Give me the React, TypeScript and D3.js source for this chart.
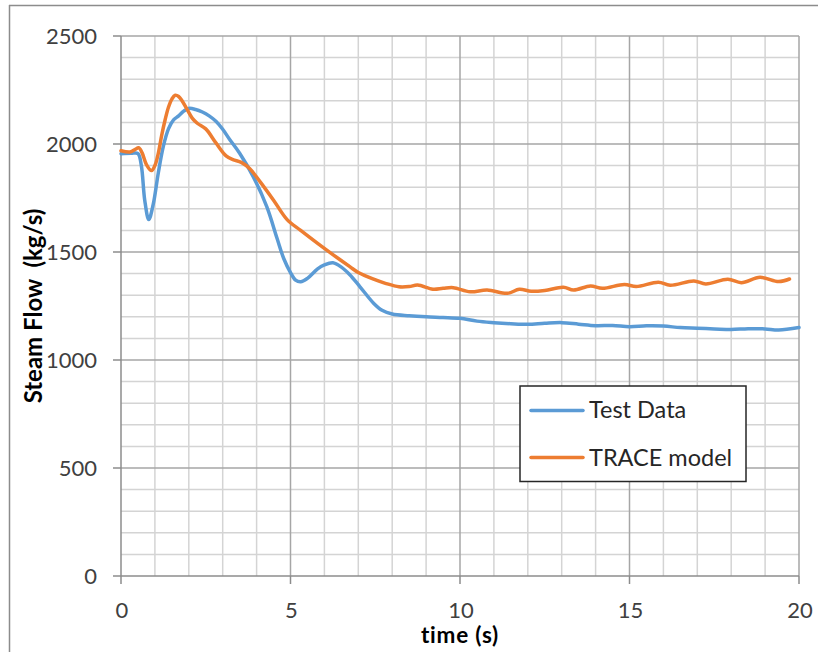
import React from "react";
import * as d3 from "d3";

const testT = [0, 0.3, 0.5, 0.6, 0.7, 0.82, 0.95, 1.1, 1.25, 1.4, 1.55, 1.7, 1.85, 2.0, 2.2, 2.4, 2.6, 2.8, 3.0, 3.2, 3.5, 3.9, 4.3, 4.6, 4.8, 5.0, 5.15, 5.3, 5.5, 5.8, 6.0, 6.25, 6.5, 6.75, 7.05, 7.45, 7.7, 8.0, 8.5, 9.0, 9.5, 10.0, 10.5, 11.0, 11.5, 12.0, 12.5, 13.0, 13.5, 14.0, 14.5, 15.0, 15.5, 16.0, 16.5, 17.0, 17.5, 18.0, 18.5, 19.0, 19.4, 20.0];
const testV = [1955, 1957, 1956, 1900, 1740, 1650, 1720, 1866, 1990, 2070, 2112, 2130, 2152, 2165, 2160, 2148, 2130, 2105, 2068, 2022, 1957, 1849, 1710, 1565, 1470, 1405, 1370, 1362, 1378, 1422, 1440, 1450, 1430, 1395, 1339, 1263, 1230, 1213, 1205, 1200, 1197, 1193, 1180, 1173, 1168, 1165, 1170, 1173, 1166, 1159, 1160, 1154, 1158, 1157, 1150, 1147, 1144, 1141, 1145, 1144, 1139, 1150];

const traceT = [0, 0.27, 0.42, 0.52, 0.62, 0.75, 0.9, 1.0, 1.1, 1.2, 1.3, 1.4, 1.5, 1.6, 1.7, 1.8, 1.95, 2.1, 2.25, 2.5, 2.8, 3.1, 3.3, 3.55, 3.8, 4.1, 4.5, 4.9, 5.3, 5.8, 6.25, 6.75, 7.0, 7.45, 7.8, 8.2, 8.5, 8.75, 9.2, 9.5, 9.8, 10.3, 10.8, 11.4, 11.75, 12.1, 12.5, 13.05, 13.35, 13.85, 14.2, 14.85, 15.2, 15.85, 16.2, 16.9, 17.25, 17.9, 18.3, 18.85, 19.4, 19.72];
const traceV = [1969, 1963, 1975, 1983, 1960, 1905, 1877, 1900, 1957, 2040, 2111, 2170, 2208, 2226, 2220, 2200, 2160, 2120, 2096, 2070, 2005, 1945, 1928, 1915, 1885, 1826, 1740, 1650, 1600, 1540, 1488, 1432, 1405, 1374, 1355, 1339, 1340, 1347, 1328, 1332, 1335, 1316, 1324, 1309, 1327, 1318, 1322, 1337, 1324, 1343, 1332, 1350, 1340, 1360, 1346, 1366, 1352, 1374, 1358, 1383, 1363, 1375];

const xTicks = [0, 5, 10, 15, 20];
const yTicks = [0, 500, 1000, 1500, 2000, 2500];
const seriesNames = ["Test Data", "TRACE model"];
const seriesColors = ["#5B9BD5", "#ED7D31"];

export default function App() {
  const W = 818, H = 652;
  const x = d3.scaleLinear().domain([0, 20]).range([121, 799]);
  const y = d3.scaleLinear().domain([0, 2500]).range([576, 36]);
  const line = d3
    .line<[number, number]>()
    .x((d) => x(d[0]))
    .y((d) => y(d[1]))
    .curve(d3.curveCatmullRom.alpha(0.5));
  const testPts: [number, number][] = testT.map((t, i) => [t, testV[i]]);
  const tracePts: [number, number][] = traceT.map((t, i) => [t, traceV[i]]);
  const minorX = d3.range(0, 21, 1);
  const minorY = d3.range(0, 2501, 100);
  const font = "Lato, 'Open Sans', sans-serif";

  return (
    <svg width={W} height={H} style={{ position: "absolute", left: 0, top: 0, background: "#fff" }}>
      <rect x={0} y={0} width={W} height={H} fill="#fff" />
      {/* outer chart border */}
      <line x1={9} y1={5.5} x2={W} y2={5.5} stroke="#8c8c8c" strokeWidth={1.5} />
      <line x1={9.5} y1={5} x2={9.5} y2={H} stroke="#8c8c8c" strokeWidth={1.5} />
      {/* minor grid */}
      {minorX.filter((v) => v % 5 !== 0).map((v) => (
        <line key={"mx" + v} x1={x(v)} x2={x(v)} y1={y(2500)} y2={y(0)} stroke="#d4d4d4" strokeWidth={1.5} />
      ))}
      {minorY.filter((v) => v % 500 !== 0).map((v) => (
        <line key={"my" + v} x1={x(0)} x2={x(20)} y1={y(v)} y2={y(v)} stroke="#d4d4d4" strokeWidth={1.5} />
      ))}
      {/* major grid */}
      {xTicks.filter((v) => v !== 0).map((v) => (
        <line key={"Mx" + v} x1={x(v)} x2={x(v)} y1={y(2500)} y2={y(0)} stroke="#a6a6a6" strokeWidth={1.5} />
      ))}
      {yTicks.filter((v) => v !== 0).map((v) => (
        <line key={"My" + v} x1={x(0)} x2={x(20)} y1={y(v)} y2={y(v)} stroke="#a6a6a6" strokeWidth={1.5} />
      ))}
      {/* axes */}
      <line x1={x(0)} x2={x(0)} y1={y(2500)} y2={y(0)} stroke="#8c8c8c" strokeWidth={1.5} />
      <line x1={x(0)} x2={x(20)} y1={y(0)} y2={y(0)} stroke="#8c8c8c" strokeWidth={1.5} />
      {xTicks.map((v) => (
        <line key={"xt" + v} x1={x(v)} x2={x(v)} y1={y(0)} y2={y(0) + 8} stroke="#8c8c8c" strokeWidth={1.5} />
      ))}
      {yTicks.map((v) => (
        <line key={"yt" + v} x1={x(0) - 8} x2={x(0)} y1={y(v)} y2={y(v)} stroke="#8c8c8c" strokeWidth={1.5} />
      ))}
      {/* tick labels */}
      {xTicks.map((v) => (
        <text key={"xl" + v} x={x(v) + 1} y={618} textAnchor="middle" fontFamily={font} fontSize={22} fill="#404040">
          {v}
        </text>
      ))}
      {yTicks.map((v) => (
        <text key={"yl" + v} x={97} y={y(v)} dy="0.35em" textAnchor="end" fontFamily={font} fontSize={22} fill="#404040">
          {v}
        </text>
      ))}
      {/* axis titles */}
      <text x={460} y={642.5} textAnchor="middle" fontFamily={font} fontWeight="bold" fontSize={22.5} letterSpacing={0.8} fill="#000">
        time (s)
      </text>
      <text
        transform={`translate(42,${(y(0) + y(2500)) / 2}) rotate(-90)`}
        textAnchor="middle"
        fontFamily={font}
        fontWeight="bold"
        fontSize={24}
        fill="#000"
        style={{ whiteSpace: "pre" }}
      >
        {"Steam Flow  (kg/s)"}
      </text>
      {/* series */}
      <path d={line(testPts) || ""} fill="none" stroke={seriesColors[0]} strokeWidth={3.5} strokeLinejoin="round" strokeLinecap="round" />
      <path d={line(tracePts) || ""} fill="none" stroke={seriesColors[1]} strokeWidth={3.5} strokeLinejoin="round" strokeLinecap="round" />
      {/* legend */}
      <rect x={520} y={386} width={226} height={95.5} fill="#fff" stroke="#262626" strokeWidth={1.5} />
      {seriesNames.map((name, i) => (
        <g key={name}>
          <line x1={531} x2={583} y1={410.5 + i * 47} y2={410.5 + i * 47} stroke={seriesColors[i]} strokeWidth={3.5} strokeLinecap="round" />
          <text x={589} y={417.5 + i * 48} fontFamily={font} fontSize={23.5} fill="#262626">
            {name}
          </text>
        </g>
      ))}
    </svg>
  );
}
